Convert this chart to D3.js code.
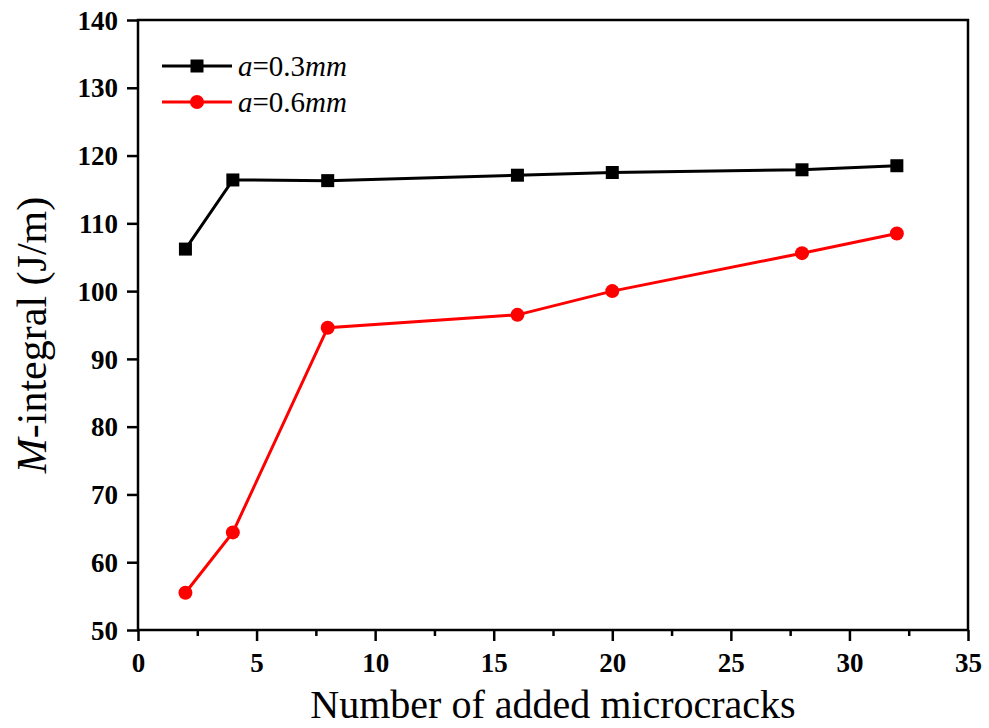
<!DOCTYPE html>
<html><head><meta charset="utf-8">
<script src="https://cdn.jsdelivr.net/npm/d3@7"></script>
<style>body{margin:0;background:#fff}svg{display:block}svg text{font-family:'Liberation Serif','Times New Roman',serif}</style>
</head><body><svg id="c" width="989" height="728"></svg>
<script>
const xValues = [2, 4, 8, 16, 20, 28, 32];
const series03 = [106.2, 116.4, 116.3, 117.1, 117.5, 117.9, 118.5];
const series06 = [55.5, 64.4, 94.6, 96.5, 100.0, 105.6, 108.5];
const xTicks = [0, 5, 10, 15, 20, 25, 30, 35];
const xMinor = [2.5, 7.5, 12.5, 17.5, 22.5, 27.5, 32.5];
const yTicks = [50, 60, 70, 80, 90, 100, 110, 120, 130, 140];

const svg = d3.select("#c");
const L = 138, R = 968, T = 20, B = 630;
const x = d3.scaleLinear().domain([0, 35]).range([L, R]);
const y = d3.scaleLinear().domain([50, 140]).range([B, T]);
const font = "'Liberation Serif','Times New Roman',serif";

svg.append("rect").attr("x", L).attr("y", T).attr("width", R - L).attr("height", B - T)
  .attr("fill", "none").attr("stroke", "#000").attr("stroke-width", 2.5);

const xAx = svg.append("g").attr("transform", `translate(0,${B})`)
  .call(d3.axisBottom(x).tickValues(xTicks).tickSize(11).tickPadding(8).tickFormat(d3.format("d")));
const xMin = svg.append("g").attr("transform", `translate(0,${B})`)
  .call(d3.axisBottom(x).tickValues(xMinor).tickSize(6).tickFormat(""));
const yAx = svg.append("g").attr("transform", `translate(${L},0)`)
  .call(d3.axisLeft(y).tickValues(yTicks).tickSize(11).tickPadding(9).tickFormat(d3.format("d")));
[xAx, xMin, yAx].forEach(g => {
  g.attr("font-family", null).attr("font-size", null);
  g.select(".domain").remove();
  g.selectAll("line").attr("stroke", "#000").attr("stroke-width", 2.5);
  g.selectAll("text").attr("font-family", font).attr("font-weight", "bold")
    .attr("font-size", 27).attr("fill", "#000");
});
xAx.selectAll("text").attr("dy", null).attr("y", 42);
yAx.selectAll("text").attr("dy", "0.34em");

const line = d3.line().x(d => x(d[0])).y(d => y(d[1]));
const d03 = xValues.map((v, i) => [v, series03[i]]);
const d06 = xValues.map((v, i) => [v, series06[i]]);

svg.append("path").datum(d03).attr("d", line).attr("fill", "none").attr("stroke", "#000").attr("stroke-width", 3);
svg.selectAll(".sq").data(d03).enter().append("rect")
  .attr("x", d => x(d[0]) - 6.5).attr("y", d => y(d[1]) - 6.5).attr("width", 13).attr("height", 13).attr("fill", "#000");

svg.append("path").datum(d06).attr("d", line).attr("fill", "none").attr("stroke", "#ff0000").attr("stroke-width", 3);
svg.selectAll(".ci").data(d06).enter().append("circle")
  .attr("cx", d => x(d[0])).attr("cy", d => y(d[1])).attr("r", 7).attr("fill", "#ff0000");

const leg = svg.append("g");
[[66, "#000", "0.3", "sq"], [102, "#ff0000", "0.6", "ci"]].forEach(([ly, col, val, m]) => {
  leg.append("line").attr("x1", 162).attr("x2", 232).attr("y1", ly).attr("y2", ly).attr("stroke", col).attr("stroke-width", 3);
  if (m === "sq") leg.append("rect").attr("x", 190.5).attr("y", ly - 6.5).attr("width", 13).attr("height", 13).attr("fill", col);
  else leg.append("circle").attr("cx", 197).attr("cy", ly).attr("r", 7).attr("fill", col);
  const t = leg.append("text").attr("x", 238).attr("y", ly + 10).attr("font-family", font).attr("font-size", 29).attr("fill", "#000");
  t.append("tspan").attr("font-style", "italic").text("a");
  t.append("tspan").text("=" + val);
  t.append("tspan").attr("font-style", "italic").text("mm");
});

svg.append("text").attr("x", 553).attr("y", 718).attr("text-anchor", "middle")
  .attr("font-family", font).attr("font-size", 40).attr("fill", "#000").text("Number of added microcracks");
const yt = svg.append("text").attr("transform", `translate(46,335) rotate(-90)`).attr("text-anchor", "middle")
  .attr("font-family", font).attr("font-size", 42).attr("fill", "#000");
yt.append("tspan").attr("font-style", "italic").text("M");
yt.append("tspan").text("-integral (J/m)");
</script></body></html>
